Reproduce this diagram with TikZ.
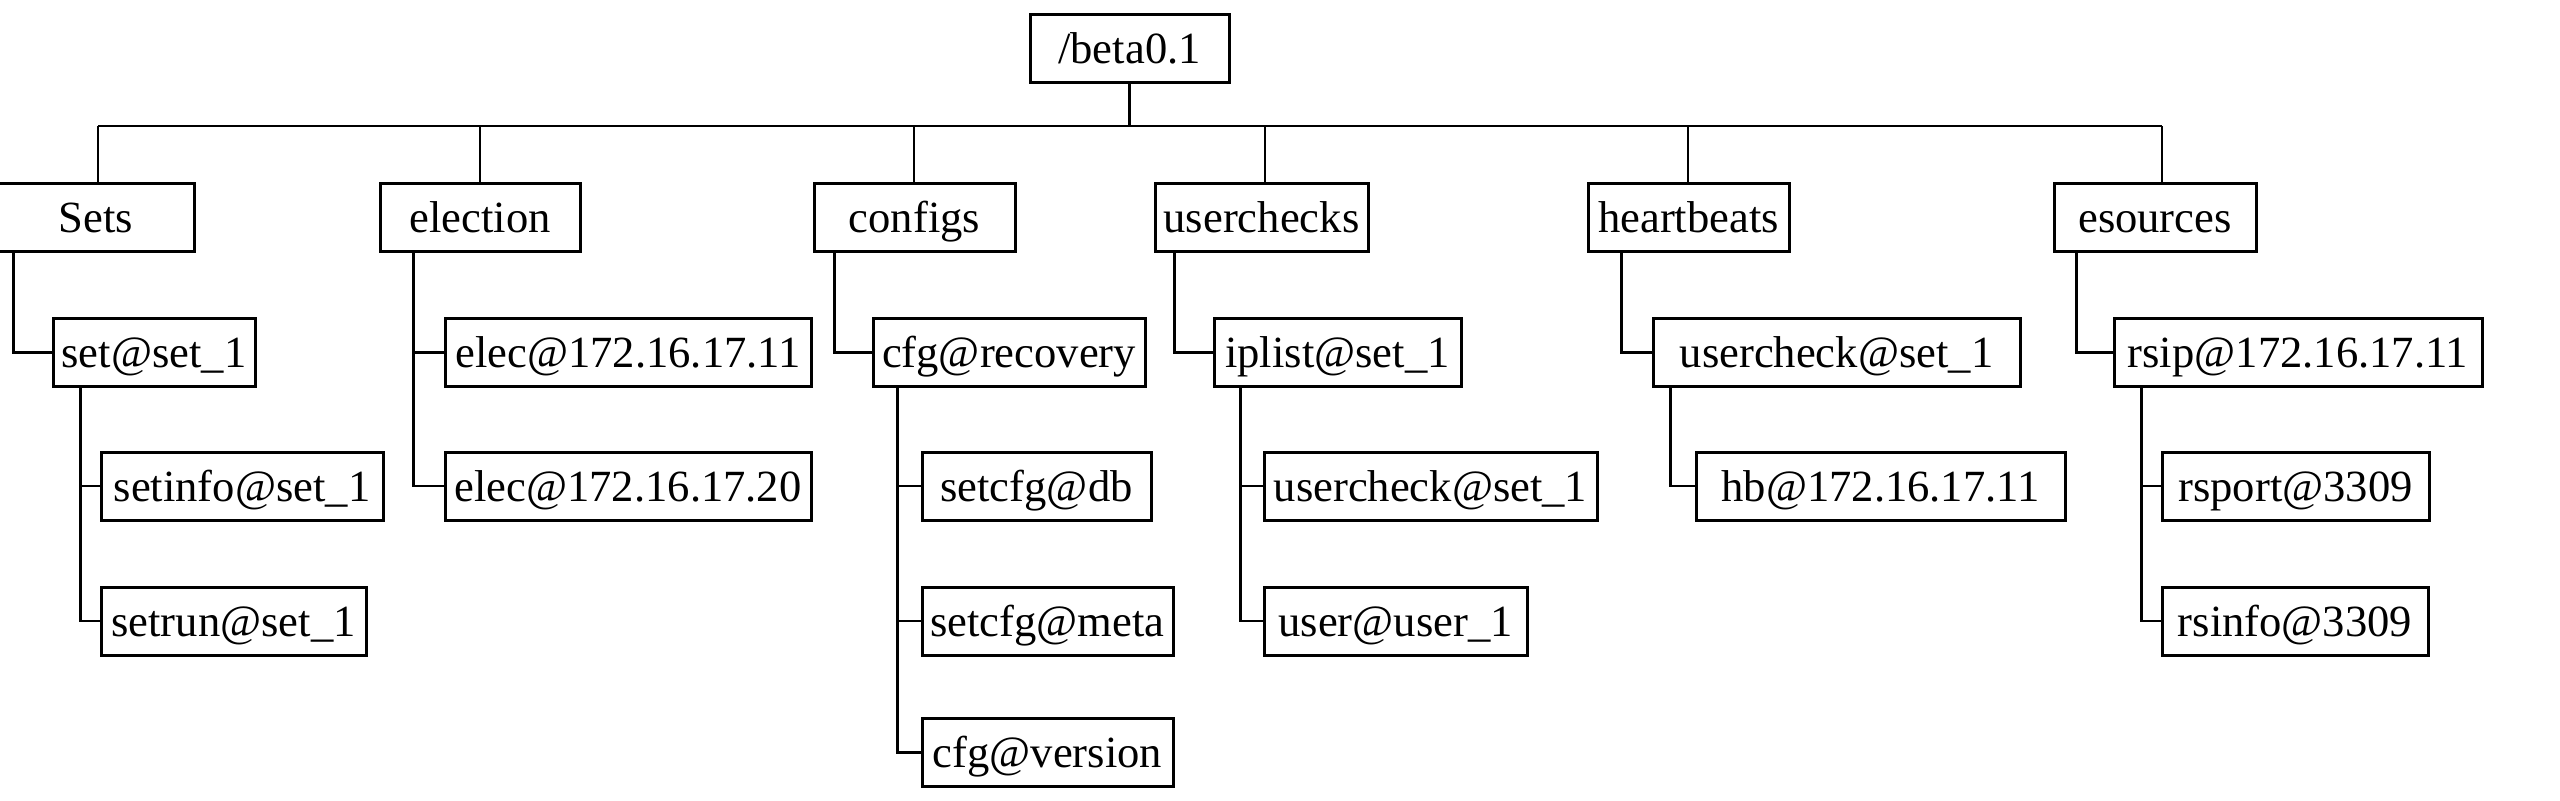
\documentclass[tikz,border=0pt]{standalone}
\usepackage{fontspec}
\setmainfont{Liberation Serif}
\newcommand\treebox[5]{\node[box, minimum width={(#3-#2)*0.5pt}] (#1) at ({(#2+#3)/2},#4) {#5};}
\begin{document}
\begin{tikzpicture}[x=0.5pt,y=-0.5pt,
  box/.style={draw, line width=1.5pt, inner sep=0pt, minimum height=34pt,
    text height=15pt, text depth=0pt, font=\fontsize{22.3}{26}\selectfont},
  conn/.style={line width=1.4pt}]
\useasboundingbox (0,0) rectangle (2560,800);
% root
\treebox{root}{1030}{1229}{48.5}{/beta0.1}
% level 1
\treebox{sets}{-2}{194}{217}{Sets}
\treebox{election}{380}{580}{217}{election}
\treebox{configs}{814}{1015}{217}{configs}
\treebox{userchecks}{1155}{1368}{217}{userchecks}
\treebox{heartbeats}{1588}{1789}{217}{heartbeats}
\treebox{esources}{2054}{2256}{217}{esources}
% level 2
\treebox{setset}{53}{255}{352.5}{set@set\_1}
\treebox{elecA}{445}{811}{352.5}{elec@172.16.17.11}
\treebox{cfgrec}{873}{1145}{352.5}{cfg@recovery}
\treebox{iplist}{1214}{1461}{352.5}{iplist@set\_1}
\treebox{ucheckhb}{1653}{2020}{352.5}{usercheck@set\_1}
\treebox{rsip}{2114}{2482}{352.5}{rsip@172.16.17.11}
% level 3
\treebox{setinfo}{101}{383}{486}{setinfo@set\_1}
\treebox{elecB}{445}{811}{486}{elec@172.16.17.20}
\treebox{setcfgdb}{922}{1151}{486}{setcfg@db}
\treebox{ucheck}{1264}{1597}{486}{usercheck@set\_1}
\treebox{hb}{1696}{2065}{486}{hb@172.16.17.11}
\treebox{rsport}{2162}{2429}{486}{rsport@3309}
% level 4
\treebox{setrun}{101}{366}{621}{setrun@set\_1}
\treebox{setcfgmeta}{922}{1173}{621}{setcfg@meta}
\treebox{user}{1264}{1527}{621}{user@user\_1}
\treebox{rsinfo}{2162}{2428}{621}{rsinfo@3309}
% level 5
\treebox{cfgver}{922}{1173}{752.5}{cfg@version}
% bus
\coordinate (bSets) at (98,126);
\coordinate (bElection) at (480,126);
\coordinate (bConfigs) at (914,126);
\coordinate (bUserchecks) at (1265,126);
\coordinate (bHeartbeats) at (1688,126);
\coordinate (bEsources) at (2162,126);
\draw[conn] (bSets) -- (bEsources);
\draw[conn] (root.south) -- (root.south |- bSets);
\draw[conn] (bSets) -- (bSets |- sets.north);
\draw[conn] (bElection) -- (bElection |- election.north);
\draw[conn] (bConfigs) -- (bConfigs |- configs.north);
\draw[conn] (bUserchecks) -- (bUserchecks |- userchecks.north);
\draw[conn] (bHeartbeats) -- (bHeartbeats |- heartbeats.north);
\draw[conn] (bEsources) -- (bEsources |- esources.north);
% level 1 -> level 2
\draw[conn] ([xshift=8.5pt]sets.south west) |- (setset.west);
\draw[conn] ([xshift=17.5pt]election.south west) |- (elecA.west);
\draw[conn] ([xshift=17.5pt]election.south west) |- (elecB.west);
\draw[conn] ([xshift=11pt]configs.south west) |- (cfgrec.west);
\draw[conn] ([xshift=10.5pt]userchecks.south west) |- (iplist.west);
\draw[conn] ([xshift=17.5pt]heartbeats.south west) |- (ucheckhb.west);
\draw[conn] ([xshift=12pt]esources.south west) |- (rsip.west);
% level 2 -> deeper
\draw[conn] ([xshift=14.5pt]setset.south west) |- (setinfo.west);
\draw[conn] ([xshift=14.5pt]setset.south west) |- (setrun.west);
\draw[conn] ([xshift=13pt]cfgrec.south west) |- (setcfgdb.west);
\draw[conn] ([xshift=13pt]cfgrec.south west) |- (setcfgmeta.west);
\draw[conn] ([xshift=13pt]cfgrec.south west) |- (cfgver.west);
\draw[conn] ([xshift=14pt]iplist.south west) |- (ucheck.west);
\draw[conn] ([xshift=14pt]iplist.south west) |- (user.west);
\draw[conn] ([xshift=9.5pt]ucheckhb.south west) |- (hb.west);
\draw[conn] ([xshift=14.5pt]rsip.south west) |- (rsport.west);
\draw[conn] ([xshift=14.5pt]rsip.south west) |- (rsinfo.west);
\end{tikzpicture}
\end{document}
